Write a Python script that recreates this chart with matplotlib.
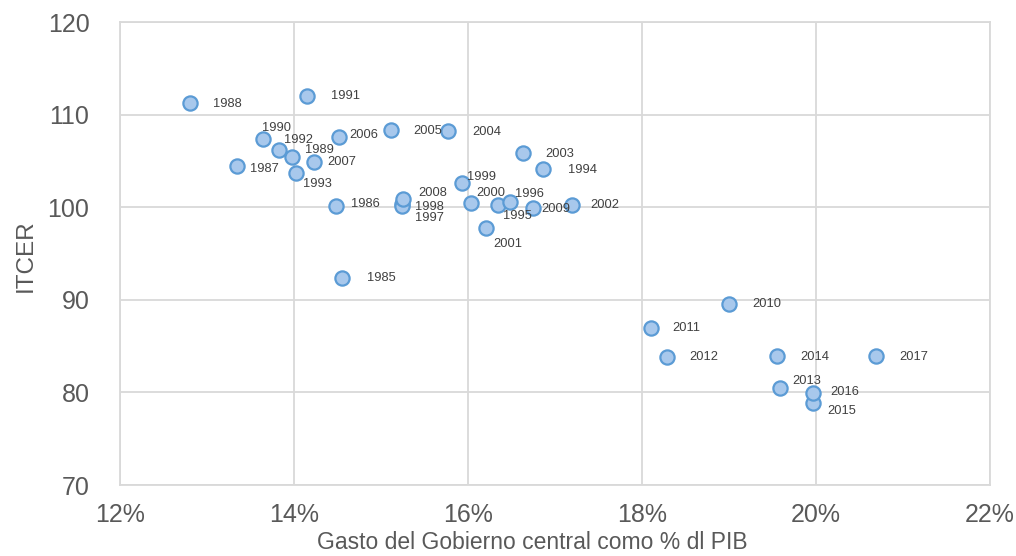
import matplotlib
matplotlib.use("Agg")
import matplotlib.pyplot as plt
from matplotlib.ticker import FuncFormatter

years = [1985, 1986, 1987, 1988, 1989, 1990, 1991, 1992, 1993, 1994, 1995, 1996,
         1997, 1998, 1999, 2000, 2001, 2002, 2003, 2004, 2005, 2006, 2007, 2008,
         2009, 2010, 2011, 2012, 2013, 2014, 2015, 2016, 2017]
gasto = [14.55, 14.48, 13.34, 12.80, 13.98, 13.64, 14.15, 13.83, 14.02, 16.86, 16.34, 16.48,
         15.24, 15.24, 15.93, 16.04, 16.21, 17.20, 16.63, 15.77, 15.11, 14.52, 14.23, 15.25,
         16.75, 19.00, 18.10, 18.29, 19.59, 19.55, 19.96, 19.96, 20.69]
itcer = [92.4, 100.1, 104.4, 111.2, 105.4, 107.4, 112.0, 106.2, 103.7, 104.1, 100.2, 100.6,
         100.3, 100.1, 102.6, 100.4, 97.8, 100.2, 105.9, 108.2, 108.3, 107.6, 104.9, 100.9,
         99.9, 89.6, 87.0, 83.8, 80.5, 83.9, 78.9, 79.9, 83.9]

# label offsets in pixels (dx, dy) relative to point, dy positive = down
offsets = {1985: (25, 0), 1986: (15, -2), 1987: (13, 3), 1988: (23, 1), 1989: (13, -7),
           1990: (-1, -11), 1991: (24, 0), 1992: (5, -10), 1993: (7, 11), 1994: (25, 1),
           1995: (5, 11), 1996: (5, -8), 1997: (13, 14), 1998: (13, 1), 1999: (5, -6),
           2000: (5, -10), 2001: (7, 16), 2002: (18, 0), 2003: (23, 1), 2004: (24, 1),
           2005: (23, 1), 2006: (10, -2), 2007: (13, 0), 2008: (16, -6), 2009: (8, 1),
           2010: (23, 0), 2011: (22, 0), 2012: (22, 0), 2013: (12, -7), 2014: (23, 1),
           2015: (15, 8), 2016: (18, -1), 2017: (23, 1)}

plt.rcParams['font.family'] = ['Liberation Sans', 'DejaVu Sans']

W, H = 1016, 556
fig = plt.figure(figsize=(W / 100, H / 100), dpi=100)
ax = fig.add_axes([120 / W, 1 - 485 / H, 870 / W, 463 / H])

grid_c = '#D9D9D9'
ax.set_xlim(12, 22)
ax.set_ylim(70, 120)
ax.set_xticks([12, 14, 16, 18, 20, 22])
ax.set_yticks([70, 80, 90, 100, 110, 120])
ax.xaxis.set_major_formatter(FuncFormatter(lambda v, p: f"{v:.0f}%"))
ax.grid(True, color=grid_c, linewidth=1.3)
ax.set_axisbelow(True)
for s in ax.spines.values():
    s.set_color(grid_c)
    s.set_linewidth(1.3)
ax.tick_params(length=0, labelsize=18, colors='#595959')
ax.tick_params(axis='y', pad=22)
ax.tick_params(axis='x', pad=13)

ax.scatter(gasto, itcer, s=105, facecolor='#A8C8EC', edgecolor='#5B9BD5',
           linewidth=1.6, zorder=3)

for yr, gx, iy in zip(years, gasto, itcer):
    dx, dy = offsets[yr]
    ax.annotate(str(yr), (gx, iy), xytext=(dx, -dy), textcoords='offset pixels',
                ha='left', va='center', fontsize=9.3, color='#404040', zorder=4)

fig.text(532 / W, 2 / H, 'Gasto del Gobierno central como % dl PIB',
         fontsize=16.5, color='#595959', ha='center', va='bottom')
fig.text(26 / W, 1 - 256 / H, 'ITCER', fontsize=17.5, color='#595959',
         ha='center', va='center', rotation=90)

fig.savefig('out.png', dpi=100)
